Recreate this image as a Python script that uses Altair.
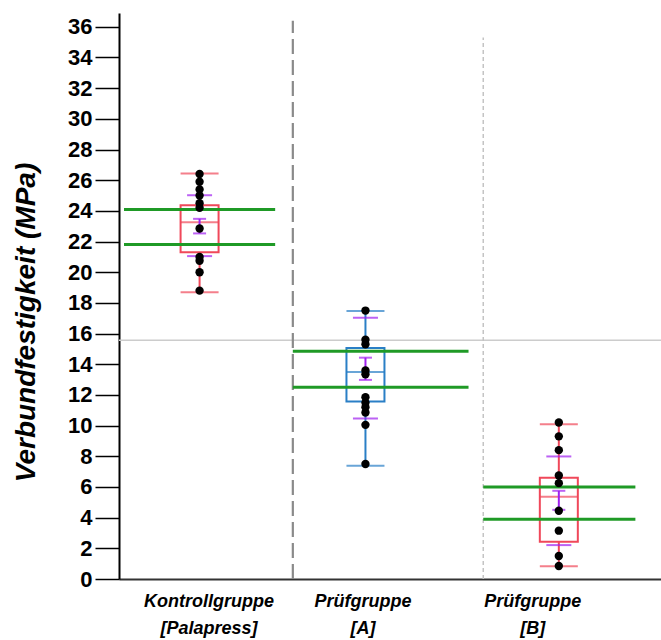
import altair as alt
import pandas as pd

# ---- data ----
groups = ["Kontrollgruppe [Palapress]", "Prüfgruppe [A]", "Prüfgruppe [B]"]
box_q1 = [21.31, 11.57, 2.43]
box_median = [23.26, 13.50, 5.36]
box_q3 = [24.37, 15.06, 6.60]
whisker_lo = [18.70, 7.38, 0.83]
whisker_hi = [26.43, 17.47, 10.09]
sd_lo = [21.05, 10.46, 2.21]
sd_hi = [25.02, 17.03, 7.99]
se_lo = [22.53, 12.98, 4.51]
se_hi = [23.48, 14.43, 5.75]
green_hi = [24.09, 14.84, 5.99]
green_lo = [21.80, 12.50, 3.90]
points_k = [26.4, 25.9, 25.4, 25.0, 24.5, 24.2, 22.85, 21.0, 20.75, 20.0, 18.8]
points_a = [17.5, 15.6, 15.3, 13.6, 13.35, 11.85, 11.5, 11.2, 10.85, 10.05, 7.5]
points_b = [10.2, 9.3, 8.4, 6.75, 6.25, 4.45, 3.15, 1.5, 0.85]
reference_line = 15.56

# ---- layout (x positions in axis units) ----
group_x = [0.77, 2.46, 4.43]
label_x = [0.86, 2.43, 4.16]
green_x0 = [0.0, 1.72, 3.66]
green_x1 = [1.54, 3.51, 5.21]
sep_x = [1.72, 3.66]
sep_top = [36.4, 35.3]
box_colors = ["#f0485a", "#2a7fc6", "#f0485a"]

FONT = "Liberation Sans"
xs = alt.Scale(domain=[0, 5.42], nice=False, zero=False)
ys = alt.Scale(domain=[0, 36.9], nice=False)
xa = alt.Axis(values=label_x, ticks=False, grid=False, title=None,
              labelExpr="datum.value < 1.5 ? ['Kontrollgruppe','[Palapress]'] : "
                        "(datum.value < 3.3 ? ['Prüfgruppe','[A]'] : ['Prüfgruppe','[B]'])",
              labelFont=FONT, labelFontSize=18, labelFontWeight="bold", labelFontStyle="italic",
              labelColor="black", labelPadding=13, labelLineHeight=27, labelBaseline="top",
              labelAlign="center", domainColor="#333333", domainWidth=2)
ya = alt.Axis(values=list(range(0, 37, 2)), grid=False, tickSize=24, tickWidth=1.5,
              tickColor="black", domainColor="black", domainWidth=2,
              labelFont=FONT, labelFontSize=22, labelFontWeight="bold", labelColor="black",
              labelPadding=3, title="Verbundfestigkeit (MPa)", titleFont=FONT,
              titleFontSize=28, titleFontWeight="bold", titleFontStyle="italic",
              titleColor="black", titleX=-79, titleY=309)


def X(f="x"):
    return alt.X(f, type="quantitative", scale=xs, axis=xa)


def Y(f):
    return alt.Y(f, type="quantitative", scale=ys, axis=ya)


df = pd.DataFrame({
    "group": groups, "x": group_x, "q1": box_q1, "med": box_median, "q3": box_q3,
    "wlo": whisker_lo, "whi": whisker_hi, "sdlo": sd_lo, "sdhi": sd_hi,
    "selo": se_lo, "sehi": se_hi, "col": box_colors,
})
gdf = pd.DataFrame({"x": green_x0, "x2": green_x1, "hi": green_hi, "lo": green_lo})
pts = pd.DataFrame({
    "x": [group_x[0]] * len(points_k) + [group_x[1]] * len(points_a) + [group_x[2]] * len(points_b),
    "v": points_k + points_a + points_b,
})
sep = pd.DataFrame({"x": sep_x, "top": sep_top, "bottom": [0, 0]})
ref = pd.DataFrame({"v": [reference_line]})

stroke = alt.Stroke("col:N", scale=None)

hline = alt.Chart(ref).mark_rule(color="#cccccc", strokeWidth=1.5).encode(y=Y("v"))
sep1 = alt.Chart(sep.iloc[[0]]).mark_rule(color="#8a8a8a", strokeWidth=2.2, strokeDash=[15, 6]).encode(
    x=X(), y=Y("bottom"), y2="top")
sep2 = alt.Chart(sep.iloc[[1]]).mark_rule(color="#c4c4c4", strokeWidth=1.5, strokeDash=[4, 3]).encode(
    x=X(), y=Y("bottom"), y2="top")

box = alt.Chart(df).mark_bar(size=38, fillOpacity=0, strokeWidth=2).encode(
    x=X(), y=Y("q1"), y2="q3", stroke=stroke)
med = alt.Chart(df).mark_tick(orient="horizontal", size=38, thickness=2).encode(
    x=X(), y=Y("med"), color=alt.Color("col:N", scale=None))
wl = alt.Chart(df).mark_rule(strokeWidth=2).encode(x=X(), y=Y("wlo"), y2="q1", stroke=stroke)
wh = alt.Chart(df).mark_rule(strokeWidth=2).encode(x=X(), y=Y("q3"), y2="whi", stroke=stroke)
capl = alt.Chart(df).mark_tick(orient="horizontal", size=38, thickness=2).encode(
    x=X(), y=Y("wlo"), color=alt.Color("col:N", scale=None))
caph = alt.Chart(df).mark_tick(orient="horizontal", size=38, thickness=2).encode(
    x=X(), y=Y("whi"), color=alt.Color("col:N", scale=None))

g1 = alt.Chart(gdf).mark_rule(color="#1f9a26", strokeWidth=3).encode(x=X(), x2="x2", y=Y("hi"))
g2 = alt.Chart(gdf).mark_rule(color="#1f9a26", strokeWidth=3).encode(x=X(), x2="x2", y=Y("lo"))

PURPLE = "#a020f0"
sdl = alt.Chart(df).mark_tick(orient="horizontal", size=25, thickness=2, color=PURPLE).encode(x=X(), y=Y("sdlo"))
sdh = alt.Chart(df).mark_tick(orient="horizontal", size=25, thickness=2, color=PURPLE).encode(x=X(), y=Y("sdhi"))
sel = alt.Chart(df).mark_tick(orient="horizontal", size=13, thickness=2, color=PURPLE).encode(x=X(), y=Y("selo"))
seh = alt.Chart(df).mark_tick(orient="horizontal", size=13, thickness=2, color=PURPLE).encode(x=X(), y=Y("sehi"))
ser = alt.Chart(df).mark_rule(strokeWidth=2, color=PURPLE).encode(x=X(), y=Y("selo"), y2="sehi")

dots = alt.Chart(pts).mark_circle(size=70, color="black", opacity=1).encode(x=X(), y=Y("v"))

chart = alt.layer(
    hline, sep1, sep2, box, med, wl, wh, capl, caph, g1, g2, sdl, sdh, sel, seh, ser, dots
).properties(
    width=542, height=566,
    padding={"left": 119, "top": 13, "right": 0, "bottom": 61},
    autosize=alt.AutoSizeParams(type="none"),
    background="white",
).configure_view(stroke=None)

chart.save("out.html", embed_options={"renderer": "svg", "actions": False})
